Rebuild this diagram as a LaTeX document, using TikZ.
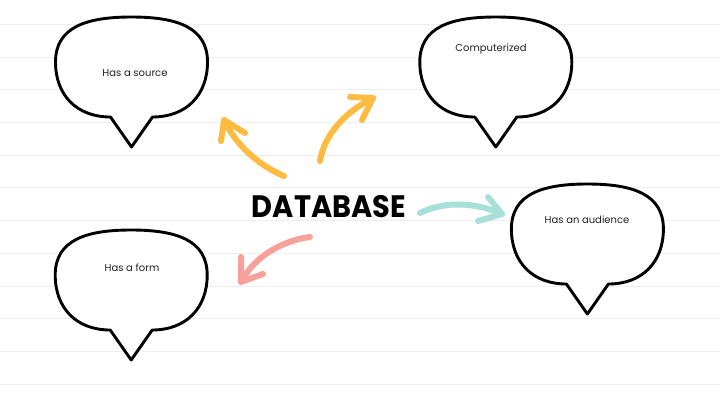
\documentclass[tikz,border=0pt]{standalone}
\usepackage{fontspec}
\setmainfont{Poppins}
\definecolor{rule}{HTML}{EFEFEF}
\definecolor{yel}{HTML}{FDBB42}
\definecolor{teal}{HTML}{A7E0D7}
\definecolor{pink}{HTML}{F8A09A}
\definecolor{txt}{HTML}{222222}
\tikzset{
  bubbleline/.style={draw=black, line width=2.9pt, line join=round, fill=white},
  bubble/.pic={
    \draw[bubbleline] (21,100) .. controls (55,100) and (76,78) .. (76,45)
      .. controls (76,10) and (45,0) .. (0,0)
      .. controls (-45,0) and (-76,10) .. (-76,45)
      .. controls (-76,78) and (-55,100) .. (-21,100) -- (0,130) -- cycle;
  },
  label/.style={font=\fontsize{10}{12}\selectfont, text=txt, inner sep=0pt},
  brush/.style={line width=6pt, line cap=round, line join=round},
  ruleline/.style={draw=rule, line width=0.9pt}
}
\begin{document}
\begin{tikzpicture}[x=1pt, y=-1pt]
  \useasboundingbox (0,0) rectangle (720,405);
  \fill[white] (0,0) rectangle (720,405);
  \foreach \i in {0,...,11} {
    \draw[ruleline] (0,{24.4+32.7*\i}) -- (720,{24.4+32.7*\i});
  }
  % bubbles
  \pic (b1) at (131.5,17) {bubble};
  \pic (b2) at (495.8,17) {bubble};
  \pic (b3) at (587.4,184) {bubble};
  \pic (b4) at (131.2,230) {bubble};
  % labels
  \node[label] (source) at (135,73) {Has a source};
  \node[label] (comp) at (491,48.5) {Computerized};
  \node[label] (aud) at (587,220) {Has an audience};
  \node[label] (form) at (132,268) {Has a form};
  % title
  \node[inner sep=0pt] (db) at (329,206.5)
    {\scalebox{0.93}[1]{\fontsize{31}{33}\selectfont\bfseries DATABASE}};
  % arrow end points
  \coordinate (a1s) at (284,176); \coordinate (a1e) at (224,120);
  \coordinate (a2s) at (320,161); \coordinate (a2e) at (373,98);
  \coordinate (a3s) at (420,213); \coordinate (a3e) at (502,214);
  \coordinate (a4s) at (310,237); \coordinate (a4e) at (241,282);
  % yellow to source
  \draw[brush, yel] (a1s) .. controls (258,165) and (236,145) .. (a1e);
  \draw[brush, yel] (221,141) -- (a1e) -- (245,133);
  % yellow to computerized
  \draw[brush, yel] (a2s) .. controls (324,135) and (345,112) .. (a2e);
  \draw[brush, yel] (350,97) -- (a2e) -- (362,120);
  % teal to audience
  \draw[brush, teal] (a3s) .. controls (440,203) and (470,200) .. (a3e);
  \draw[brush, teal] (488,197) -- (a3e) -- (478,221);
  % pink to form
  \draw[brush, pink] (a4s) .. controls (285,240) and (255,255) .. (a4e);
  \draw[brush, pink] (241,257) -- (a4e) -- (263,274);
\end{tikzpicture}
\end{document}
